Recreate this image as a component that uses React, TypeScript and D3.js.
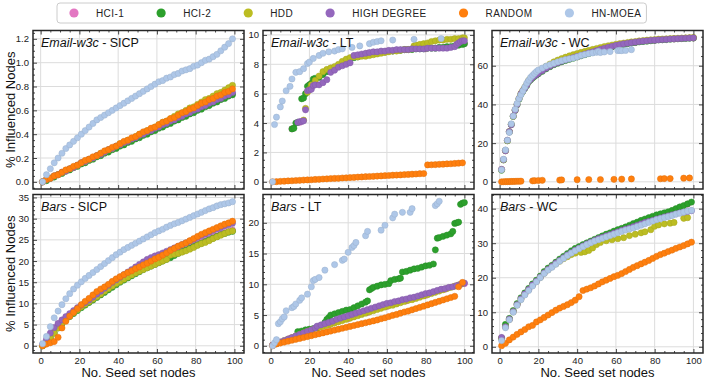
import React, { useRef, useEffect } from "react";
import * as d3 from "d3";

const METHODS = ["HCI-1", "HCI-2", "HDD", "HIGH DEGREE", "RANDOM", "HN-MOEA"];
const COLORS = ["#e377c2", "#2ca02c", "#bcbd22", "#9467bd", "#ff7f0e", "#aec7e8"];

const SEEDS = [1, 3, 5, 7, 9, 11, 13, 15, 17, 19, 21, 23, 25, 27, 29, 31, 33, 35, 37, 39, 41, 43, 45, 47, 49,
  51, 53, 55, 57, 59, 61, 63, 65, 67, 69, 71, 73, 75, 77, 79, 81, 83, 85, 87, 89, 91, 93, 95, 97, 99];
const SEEDS_WC = [1, 2, 3, 4, 5, 6, 7, 8, 9, 10, 11, 12, 13, 14, 15, 16, 17, 18, 19, 20,
  22, 24, 26, 28, 30, 32, 34, 36, 38, 40, 42, 44, 46, 48, 50, 52, 54, 56, 58, 60,
  62, 64, 66, 68, 70, 72, 74, 76, 78, 80, 82, 84, 86, 88, 90, 92, 94, 96, 98, 100];

const X_TICKS = [0, 20, 40, 60, 80, 100];

// ---- Email-w3c / SICP
const EMAIL_SICP_HCI1_X = [1, 11, 21, 31, 41, 51, 61, 71, 81, 91, 99];
const EMAIL_SICP_HCI1 = [0, .08, .16, .23, .31, .39, .46, .54, .61, .69, .74];
const EMAIL_SICP_HCI2 = [0, .01, .03, .04, .06, .07, .09, .1, .12, .13, .15, .16, .18, .19, .21, .22, .24, .25, .27, .28,
  .3, .31, .33, .34, .36, .37, .39, .4, .42, .43, .45, .46, .48, .49, .51, .52, .54, .55, .57, .58,
  .6, .61, .63, .64, .66, .67, .69, .7, .72, .73];
const EMAIL_SICP_HDD = [0, .02, .03, .05, .06, .08, .09, .11, .12, .14, .16, .17, .19, .2, .22, .24, .25, .27, .28, .3,
  .32, .33, .35, .36, .38, .4, .41, .43, .44, .46, .48, .5, .51, .53, .55, .57, .58, .6, .62, .63,
  .65, .67, .69, .7, .72, .74, .75, .77, .79, .81];
const EMAIL_SICP_HIGH = [0, .02, .03, .05, .06, .08, .09, .11, .12, .14, .16, .17, .19, .2, .22, .23, .25, .27, .28, .3,
  .31, .33, .34, .36, .37, .39, .4, .42, .43, .45, .46, .48, .49, .51, .52, .54, .55, .57, .58, .6,
  .61, .63, .64, .66, .67, .69, .7, .72, .73, .75];
const EMAIL_SICP_RANDOM = [0, .02, .03, .05, .06, .08, .1, .11, .13, .14, .16, .18, .19, .21, .22, .24, .26, .27, .29, .3,
  .32, .34, .35, .37, .38, .4, .42, .43, .45, .46, .48, .5, .51, .53, .54, .56, .58, .59, .61, .62,
  .64, .66, .67, .69, .7, .72, .73, .75, .76, .78];
const EMAIL_SICP_MOEA = [0, .06, .11, .16, .2, .24, .28, .31, .34, .37, .4, .43, .46, .49, .52, .54, .56, .58, .6, .62,
  .64, .66, .68, .7, .72, .74, .76, .78, .8, .82, .84, .85, .87, .88, .9, .91, .93, .94, .95, .97,
  .98, 1.0, 1.02, 1.03, 1.05, 1.07, 1.1, 1.13, 1.16, 1.2];

// ---- Email-w3c / LT
const EMAIL_LT_HCI1_X = [11, 15, 20, 30, 40, 50, 60, 70, 80, 90, 100];
const EMAIL_LT_HCI1 = [3.6, 4.05, 6.6, 7.6, 8.1, 8.75, 8.9, 9.0, 9.05, 9.15, 9.4];
const EMAIL_LT_HCI2_X = [11, 12, 13, 14, 16, 17, 18, 19, 20, 21, 22, 23, 25, 27, 29, 31, 33, 35, 37, 39,
  41, 43, 45, 47, 49, 51, 53, 55, 57, 59, 61, 63, 65, 67, 69, 71, 73, 75, 77, 79,
  81, 83, 85, 87, 89, 91, 93, 95, 97, 99, 100];
const EMAIL_LT_HCI2 = [3.6, 3.65, 4.0, 4.05, 5.65, 5.7, 6.0, 6.5, 6.6, 6.7, 7.0, 7.05, 7.1, 7.3, 7.5, 7.6, 7.75, 7.9, 8.0, 8.15,
  8.4, 8.45, 8.5, 8.6, 8.7, 8.75, 8.8, 8.8, 8.85, 8.85, 8.9, 8.9, 8.95, 8.95, 9.0, 9.0, 9.0, 9.05, 9.05, 9.05,
  9.1, 9.1, 9.1, 9.15, 9.15, 9.2, 9.2, 9.25, 9.3, 9.35, 9.4];
const EMAIL_LT_HDD_X = [17, 18, 19, 20, 21, 23, 25, 27, 29, 31, 33, 35, 37, 39, 41, 43, 45, 47, 49, 51,
  53, 55, 57, 59, 61, 63, 65, 67, 69, 71, 73, 74, 75, 77, 79, 81, 83, 85, 87, 89, 91, 93, 95, 97, 99, 100];
const EMAIL_LT_HDD = [4.2, 5.0, 6.1, 6.3, 6.6, 6.9, 7.2, 7.5, 7.65, 7.75, 7.85, 8.0, 8.2, 8.35, 8.45, 8.5, 8.5, 8.55, 8.55, 8.6,
  8.65, 8.7, 8.75, 8.8, 8.85, 8.9, 8.9, 8.95, 9.0, 9.0, 9.05, 9.25, 9.3, 9.35, 9.4, 9.45, 9.55, 9.6, 9.65, 9.65,
  9.7, 9.7, 9.75, 9.75, 9.8, 9.8];
const EMAIL_LT_HIGH_X = [14, 15, 16, 17, 18, 19, 20, 21, 22, 23, 25, 27, 29, 31, 33, 35, 37, 39, 41, 43,
  45, 47, 49, 51, 53, 55, 57, 59, 61, 63, 65, 67, 69, 71, 73, 75, 77, 79, 81, 83,
  85, 87, 89, 91, 93, 95, 96, 97, 98, 99, 100];
const EMAIL_LT_HIGH = [4.05, 4.1, 4.1, 4.15, 4.9, 6.2, 6.25, 6.3, 6.55, 6.6, 6.6, 6.75, 6.95, 7.45, 7.6, 7.8, 7.9, 8.0, 8.1, 8.6,
  8.65, 8.7, 8.75, 8.8, 8.85, 8.85, 8.9, 8.9, 8.95, 8.95, 9.0, 9.0, 9.0, 9.0, 9.05, 9.05, 9.05, 9.05, 9.1, 9.1,
  9.1, 9.1, 9.1, 9.1, 9.15, 9.2, 9.35, 9.45, 9.55, 9.6, 9.6];
const EMAIL_LT_RANDOM = [0, .01, .03, .04, .06, .07, .09, .1, .12, .13, .14, .16, .17, .19, .2, .22, .23, .24, .26, .27,
  .29, .3, .32, .33, .35, .36, .37, .39, .4, .42, .43, .45, .46, .47, .49, .5, .52, .53, .55, .56,
  1.15, 1.16, 1.17, 1.19, 1.2, 1.22, 1.23, 1.25, 1.27, 1.29];
const EMAIL_LT_MOEA_X = [1, 2, 3, 5, 6, 8, 10, 11, 13, 15, 17, 19, 20, 22, 25, 27, 30, 33, 35, 37,
  42, 46, 51, 53, 55, 57, 63, 74, 88];
const EMAIL_LT_MOEA = [0, 3.9, 4.4, 5.1, 5.5, 6.2, 6.5, 7.0, 7.45, 7.5, 7.7, 8.05, 8.15, 8.4, 8.6, 8.75, 8.85, 8.9, 9.0, 9.05,
  9.15, 9.25, 9.4, 9.5, 9.55, 9.6, 9.65, 9.7, 9.75];

// ---- Email-w3c / WC
const EMAIL_WC_HCI1_X = [1, 3, 5, 8, 12, 16, 20, 30, 40, 50, 60, 70, 80, 90, 100];
const EMAIL_WC_HCI1 = [6.3, 16.2, 25.8, 37.2, 47, 53, 56, 61.5, 64.6, 67.6, 70.3, 72, 73.1, 73.8, 74.3];
const EMAIL_WC_HCI2 = [6.0, 11.3, 16.2, 21.2, 25.8, 29.6, 33.8, 36.9, 39.8, 42.7, 45.2, 46.8, 48.3, 49.8, 51.7, 52.7, 53.7, 54.5, 55.2, 55.9,
  57.1, 58.4, 59.5, 60.5, 61.3, 62.0, 62.7, 63.3, 63.9, 64.5, 65.1, 65.7, 66.3, 66.9, 67.5, 68.1, 68.7, 69.2, 69.7, 70.2,
  70.6, 71.0, 71.4, 71.7, 72.0, 72.3, 72.5, 72.7, 72.9, 73.1, 73.3, 73.4, 73.5, 73.7, 73.8, 73.9, 74.0, 74.1, 74.2, 74.3];
const EMAIL_WC_HDD = [6.3, 11.4, 16.1, 21.3, 25.9, 29.7, 33.9, 37.1, 40.2, 43.2, 45.7, 47.3, 48.9, 50.4, 52.4, 53.5, 54.5, 55.4, 56.2, 57.0,
  58.3, 59.7, 60.9, 62.0, 62.9, 63.7, 64.4, 65.1, 65.7, 66.3, 66.9, 67.4, 67.9, 68.4, 68.9, 69.4, 69.9, 70.3, 70.7, 71.1,
  71.4, 71.7, 72.0, 72.3, 72.5, 72.8, 73.0, 73.2, 73.4, 73.5, 73.7, 73.8, 73.9, 74.0, 74.1, 74.2, 74.3, 74.4, 74.5, 74.6];
const EMAIL_WC_HIGH = [6.5, 11.5, 16.0, 21.5, 26.0, 29.5, 34.0, 37.0, 40.0, 43.0, 45.5, 47.0, 48.5, 50.0, 52.0, 53.0, 54.0, 54.8, 55.5, 56.2,
  57.4, 58.7, 59.8, 60.8, 61.6, 62.3, 63.0, 63.6, 64.2, 64.8, 65.4, 66.0, 66.6, 67.2, 67.8, 68.4, 69.0, 69.5, 70.0, 70.5,
  70.9, 71.3, 71.6, 71.9, 72.2, 72.5, 72.7, 72.9, 73.1, 73.2, 73.4, 73.5, 73.6, 73.8, 73.9, 74.0, 74.1, 74.2, 74.3, 74.4];
const EMAIL_WC_RANDOM_X = [1, 2, 3, 4, 5, 6, 7, 8, 9, 10, 11, 17, 18, 20, 22, 31, 32, 40, 46, 52, 59, 63, 68, 83, 85, 88, 95, 98];
const EMAIL_WC_RANDOM = [0, .05, .1, .1, .15, .2, .2, .25, .3, .3, .35, .5, .6, .7, .8, .9, 1.0, 1.1, 1.2, 1.2, 1.3, 1.4, 1.5, 1.6, 1.7, 1.7, 1.9, 2.0];
const EMAIL_WC_MOEA_X = [1, 2, 3, 4, 5, 6, 7, 8, 9, 10, 11, 12, 13, 14, 15, 16, 17, 18, 19, 20,
  22, 24, 26, 28, 30, 32, 34, 36, 38, 40, 42, 44, 46, 48, 50, 51, 52, 54, 57, 61, 62, 63, 65, 68];
const EMAIL_WC_MOEA = [6.2, 11.7, 16.5, 21.5, 25.5, 30.0, 34.0, 37.5, 40.5, 43.0, 45.0, 47.0, 49.0, 51.0, 52.5, 54.0, 55.0, 56.0, 57.0, 57.8,
  58.8, 59.8, 60.6, 61.3, 62.0, 62.6, 63.2, 63.6, 64.0, 64.6, 65.3, 65.8, 66.3, 66.6, 66.9, 67.4, 66.8, 67.1, 67.3, 67.8,
  67.9, 67.8, 67.9, 68.3];

// ---- Bars / SICP
const BARS_SICP_HCI1 = [0.2, 1.2, 2.5, 3.8, 4.8, 5.7, 6.5, 7.3, 8.0, 8.7, 9.3, 9.9, 10.5, 11.2, 11.8, 12.4, 13.0, 13.7, 14.3, 14.9,
  15.5, 16.0, 16.6, 17.1, 17.6, 18.1, 18.6, 19.0, 19.4, 19.8, 20.2, 20.6, 21.0, 21.4, 21.8, 22.1, 22.5, 22.9, 23.3, 23.7,
  24.1, 24.5, 24.9, 25.3, 25.7, 26.0, 26.4, 26.7, 27.0, 27.3];
const BARS_SICP_HCI2 = [0, 0.8, 1.8, 3.0, 4.2, 5.2, 6.1, 6.9, 7.6, 8.3, 9.0, 9.6, 10.2, 10.8, 11.4, 12.0, 12.6, 13.2, 13.8, 14.4,
  15.0, 15.5, 16.0, 16.5, 17.0, 17.5, 18.0, 18.4, 18.8, 19.2, 19.6, 20.0, 20.4, 20.8, 21.3, 21.8, 22.2, 22.6, 23.0, 23.4,
  23.8, 24.2, 24.6, 25.0, 25.4, 25.8, 26.2, 26.5, 26.8, 27.0];
const BARS_SICP_HDD = [0, 0.8, 1.8, 3.0, 4.2, 5.3, 6.2, 7.0, 7.8, 8.5, 9.2, 9.8, 10.4, 11.0, 11.6, 12.2, 12.9, 13.5, 14.1, 14.7,
  15.2, 15.7, 16.2, 16.7, 17.2, 17.6, 18.0, 18.4, 18.8, 19.2, 19.6, 20.0, 20.4, 21.4, 21.6, 21.8, 22.1, 22.4, 22.8, 23.2,
  23.7, 24.1, 24.4, 24.8, 25.3, 25.7, 26.1, 26.5, 26.9, 27.1];
const BARS_SICP_HIGH = [0.3, 1.5, 3.0, 4.3, 5.3, 6.1, 6.9, 7.6, 8.3, 9.0, 9.6, 10.2, 10.8, 11.5, 12.2, 12.9, 13.6, 14.3, 15.0, 15.6,
  16.2, 16.8, 17.4, 18.0, 18.6, 19.2, 19.8, 20.4, 20.8, 21.2, 21.5, 21.9, 22.3, 22.7, 23.1, 23.5, 23.9, 24.3, 24.7, 25.1,
  25.6, 26.0, 26.4, 26.8, 27.2, 27.6, 27.9, 28.3, 28.6, 28.9];
const BARS_SICP_RANDOM = [0, 0.4, 0.7, 1.0, 2.0, 4.2, 5.8, 7.0, 7.9, 8.8, 9.7, 10.5, 11.2, 12.0, 12.8, 13.4, 13.9, 14.5, 15.2, 15.8,
  16.3, 16.8, 17.3, 17.7, 18.2, 18.6, 19.1, 19.5, 20.0, 20.5, 20.9, 21.4, 21.9, 22.5, 23.0, 23.5, 23.9, 24.3, 24.8, 25.3,
  25.8, 26.3, 26.7, 27.1, 27.5, 27.9, 28.3, 28.7, 29.0, 29.4];
const BARS_SICP_MOEA = [0.5, 2.2, 4.5, 6.6, 8.2, 9.7, 11.1, 12.3, 13.4, 14.3, 15.1, 15.9, 16.6, 17.3, 18.0, 18.7, 19.4, 20.1, 20.8, 21.5,
  22.1, 22.7, 23.2, 23.7, 24.2, 24.7, 25.2, 25.7, 26.2, 26.7, 27.1, 27.5, 28.0, 28.4, 28.8, 29.1, 29.5, 29.9, 30.3, 30.7,
  31.1, 31.5, 31.9, 32.3, 32.6, 33.0, 33.3, 33.5, 33.7, 34.0];

// ---- Bars / LT
const BARS_LT_HCI1_X = [1, 5, 10, 20, 30, 40, 50, 60, 70, 80, 90, 100];
const BARS_LT_HCI1 = [0.1, 0.6, 1.2, 2.35, 3.4, 4.4, 5.4, 6.4, 7.3, 8.2, 9.2, 10.1];
const BARS_LT_HCI2_X = [14, 16, 18, 20, 22, 24, 26, 28, 29, 30, 31, 33, 35, 37, 39, 41, 43, 45, 47, 49,
  50, 51, 52, 53, 55, 57, 59, 61, 62, 64, 66, 67, 68, 70, 72, 74, 76, 78, 80, 82,
  84, 85, 86, 87, 89, 91, 93, 94, 95, 96, 97, 98, 99, 100];
const BARS_LT_HCI2 = [2.3, 2.4, 2.6, 2.7, 2.8, 2.9, 3.2, 3.8, 4.3, 4.6, 5.0, 5.2, 5.4, 5.6, 5.8, 5.9, 6.2, 6.5, 6.8, 7.1,
  7.3, 9.1, 9.3, 9.5, 9.7, 9.9, 10.0, 10.1, 10.6, 10.8, 10.9, 11.0, 12.0, 12.1, 12.3, 12.5, 12.6, 12.8, 13.0, 13.1,
  13.3, 15.6, 17.5, 17.6, 17.8, 18.0, 18.2, 18.6, 19.9, 20.0, 20.1, 23.0, 23.2, 23.3];
const BARS_LT_HDD = [0.1, 0.35, 0.6, 0.85, 1.1, 1.35, 1.6, 1.85, 2.1, 2.35, 2.6, 2.85, 3.0, 3.15, 3.3, 3.5, 3.7, 3.9, 4.1, 4.3,
  4.5, 4.7, 4.9, 5.1, 5.3, 5.5, 5.7, 5.9, 6.1, 6.3, 6.5, 6.6, 6.8, 7.0, 7.2, 7.4, 7.5, 7.7, 7.9, 8.1,
  8.3, 8.5, 8.7, 8.9, 9.1, 9.3, 9.5, 9.7, 9.9, 10.1];
const BARS_LT_HIGH_X = [1, 3, 5, 7, 9, 11, 13, 15, 17, 19, 21, 23, 24, 26, 28, 30, 32, 34, 36, 38,
  40, 42, 44, 46, 48, 50, 52, 54, 56, 58, 60, 62, 64, 66, 68, 70, 72, 74, 76, 78,
  80, 82, 84, 86, 88, 90, 92, 94, 96, 98, 100];
const BARS_LT_HIGH = [0.1, 0.35, 0.6, 0.85, 1.1, 1.35, 1.6, 1.85, 2.1, 2.35, 2.6, 2.9, 3.2, 3.4, 3.6, 3.8, 4.0, 4.3, 4.5, 4.7,
  4.9, 5.1, 5.3, 5.5, 5.7, 5.9, 6.1, 6.3, 6.5, 6.7, 6.9, 7.0, 7.2, 7.3, 7.5, 7.6, 7.8, 7.9, 8.1, 8.3,
  8.5, 8.6, 8.8, 9.0, 9.2, 9.3, 9.5, 9.6, 9.8, 10.0, 10.2];
const BARS_LT_RANDOM = [0, 0.3, 0.45, 0.6, 0.75, 0.9, 1.05, 1.2, 1.35, 1.5, 1.65, 1.8, 1.95, 2.1, 2.25, 2.4, 2.55, 2.7, 2.85, 3.0,
  3.15, 3.3, 3.45, 3.6, 3.75, 3.9, 4.05, 4.2, 4.4, 4.55, 4.75, 4.95, 5.1, 5.3, 5.5, 5.65, 5.85, 6.05, 6.25, 6.45,
  6.65, 6.85, 7.05, 7.25, 7.45, 7.65, 7.85, 8.05, 9.6, 10.3];
const BARS_LT_MOEA_X = [1, 2, 3, 4, 5, 6, 7, 8, 11, 12, 13, 15, 16, 19, 21, 22, 23, 25, 28, 33,
  37, 38, 40, 42, 43, 44, 49, 50, 57, 59, 63, 64, 68, 72, 73, 85, 86, 87];
const BARS_LT_MOEA = [0, 0.5, 1.0, 3.6, 3.9, 4.4, 4.7, 5.7, 6.2, 6.4, 6.8, 7.4, 7.8, 8.4, 9.6, 10.6, 10.8, 11.1, 12.3, 13.2,
  13.9, 14.1, 15.2, 16.0, 16.3, 16.8, 17.9, 18.6, 18.8, 19.6, 20.8, 21.4, 21.7, 21.7, 22.3, 22.8, 23.1, 23.5];

// ---- Bars / WC
const BARS_WC_HCI1_X = [1, 5, 9, 13, 17, 21, 25, 29, 33, 37, 41, 45, 49, 53, 57, 61, 65, 69, 73, 77, 81, 85, 89, 93, 97];
const BARS_WC_HCI1 = [2.3, 8.0, 12.3, 15.4, 18.0, 20.3, 22.5, 24.2, 25.8, 27.4, 28.8, 29.8, 30.8, 31.7, 32.6, 33.5, 34.3, 35.5, 36.4, 37.0,
  37.8, 38.5, 39.3, 40.3, 41.3];
const BARS_WC_HCI2 = [2.5, 6.5, 8.2, 10.5, 12.5, 14.2, 15.6, 16.9, 18.2, 19.3, 20.5, 21.8, 22.8, 23.6, 24.5, 25.4, 26.2, 27.0, 27.8, 28.5,
  29.0, 29.6, 30.1, 30.6, 31.1, 31.6, 32.1, 32.6, 33.0, 33.5, 33.9, 34.3, 34.7, 35.2, 35.7, 36.1, 36.6, 37.0, 37.4, 37.8,
  38.2, 38.5, 38.8, 39.1, 39.5, 40.0, 40.5, 40.9, 41.4, 41.9];
const BARS_WC_HDD_X = [1, 3, 5, 7, 9, 11, 13, 15, 17, 19, 21, 23, 25, 27, 29, 31, 33, 35, 37, 39,
  42, 44, 46, 48, 50, 52, 55, 58, 61, 64, 67, 70, 73, 75, 78, 80, 82, 85, 88, 90, 95, 97];
const BARS_WC_HDD = [2.5, 5.7, 7.9, 10.1, 12.1, 13.8, 15.2, 16.5, 17.8, 18.9, 20.1, 21.3, 22.3, 23.2, 24.0, 24.8, 25.5, 26.1, 26.7, 27.1,
  27.3, 27.5, 27.9, 28.6, 29.6, 30.2, 30.7, 31.0, 31.3, 31.6, 32.2, 32.6, 33.0, 33.3, 33.9, 34.9, 35.3, 35.6, 35.8, 36.0,
  37.2, 37.4];
const BARS_WC_HIGH = [2.7, 5.8, 8.0, 10.2, 12.2, 13.9, 15.3, 16.6, 17.9, 19.0, 20.2, 21.4, 22.4, 23.3, 24.2, 25.0, 25.8, 26.6, 27.3, 28.0,
  28.6, 29.2, 29.8, 30.3, 30.8, 31.3, 31.7, 32.1, 32.5, 32.9, 33.3, 33.7, 34.1, 34.4, 34.8, 35.2, 35.6, 36.0, 36.3, 36.6,
  37.0, 37.3, 37.6, 37.9, 38.2, 38.5, 38.8, 39.0, 39.2, 39.4];
const BARS_WC_RANDOM = [0.3, 1.0, 2.0, 2.8, 3.6, 4.3, 5.0, 5.8, 6.2, 7.2, 7.8, 8.5, 9.2, 9.9, 10.6, 11.2, 11.7, 12.2, 12.8, 13.5,
  14.5, 16.3, 16.7, 17.1, 17.6, 18.2, 18.8, 19.3, 19.8, 20.3, 20.7, 21.2, 21.8, 22.4, 23.0, 23.5, 24.0, 24.5, 25.0, 25.6,
  26.2, 26.7, 27.1, 27.6, 28.0, 28.5, 28.9, 29.3, 29.8, 30.3];
const BARS_WC_MOEA = [1.8, 5.5, 7.8, 10.0, 12.0, 13.6, 15.0, 16.3, 17.6, 18.8, 20.0, 21.2, 22.2, 23.0, 23.9, 24.8, 25.6, 26.4, 27.1, 27.8,
  28.4, 29.0, 29.6, 30.1, 30.6, 31.0, 31.4, 31.8, 32.2, 32.6, 33.0, 33.4, 33.8, 34.1, 34.4, 34.8, 35.2, 35.6, 36.0, 36.4,
  36.8, 37.1, 37.4, 37.7, 38.0, 38.4, 38.7, 39.0, 39.3, 39.5];

type Series = { x: number[]; y: number[] };
type Panel = { net: string; model: string; yDomain: [number, number]; yTicks: number[]; yMinor: number; fmt: string; series: Series[] };

const s = (x: number[], y: number[]): Series => ({ x, y });

const PANELS: Panel[] = [
  { net: "Email-w3c", model: "SICP", yDomain: [-0.06, 1.27], yTicks: [0, 0.2, 0.4, 0.6, 0.8, 1.0, 1.2], yMinor: 0.05, fmt: ".1f",
    series: [s(EMAIL_SICP_HCI1_X, EMAIL_SICP_HCI1), s(SEEDS, EMAIL_SICP_HCI2), s(SEEDS, EMAIL_SICP_HDD),
      s(SEEDS, EMAIL_SICP_HIGH), s(SEEDS, EMAIL_SICP_RANDOM), s(SEEDS, EMAIL_SICP_MOEA)] },
  { net: "Email-w3c", model: "LT", yDomain: [-0.49, 10.3], yTicks: [0, 2, 4, 6, 8, 10], yMinor: 0.5, fmt: "d",
    series: [s(EMAIL_LT_HCI1_X, EMAIL_LT_HCI1), s(EMAIL_LT_HCI2_X, EMAIL_LT_HCI2), s(EMAIL_LT_HDD_X, EMAIL_LT_HDD),
      s(EMAIL_LT_HIGH_X, EMAIL_LT_HIGH), s(SEEDS, EMAIL_LT_RANDOM), s(EMAIL_LT_MOEA_X, EMAIL_LT_MOEA)] },
  { net: "Email-w3c", model: "WC", yDomain: [-3.7, 78.2], yTicks: [0, 20, 40, 60], yMinor: 5, fmt: "d",
    series: [s(EMAIL_WC_HCI1_X, EMAIL_WC_HCI1), s(SEEDS_WC, EMAIL_WC_HCI2), s(SEEDS_WC, EMAIL_WC_HDD),
      s(SEEDS_WC, EMAIL_WC_HIGH), s(EMAIL_WC_RANDOM_X, EMAIL_WC_RANDOM), s(EMAIL_WC_MOEA_X, EMAIL_WC_MOEA)] },
  { net: "Bars", model: "SICP", yDomain: [-1.7, 35.7], yTicks: [0, 5, 10, 15, 20, 25, 30, 35], yMinor: 1, fmt: "d",
    series: [s(SEEDS, BARS_SICP_HCI1), s(SEEDS, BARS_SICP_HCI2), s(SEEDS, BARS_SICP_HDD),
      s(SEEDS, BARS_SICP_HIGH), s(SEEDS, BARS_SICP_RANDOM), s(SEEDS, BARS_SICP_MOEA)] },
  { net: "Bars", model: "LT", yDomain: [-1.17, 24.6], yTicks: [0, 5, 10, 15, 20], yMinor: 1, fmt: "d",
    series: [s(BARS_LT_HCI1_X, BARS_LT_HCI1), s(BARS_LT_HCI2_X, BARS_LT_HCI2), s(SEEDS, BARS_LT_HDD),
      s(BARS_LT_HIGH_X, BARS_LT_HIGH), s(SEEDS, BARS_LT_RANDOM), s(BARS_LT_MOEA_X, BARS_LT_MOEA)] },
  { net: "Bars", model: "WC", yDomain: [-1.8, 44.1], yTicks: [0, 10, 20, 30, 40], yMinor: 2, fmt: "d",
    series: [s(BARS_WC_HCI1_X, BARS_WC_HCI1), s(SEEDS, BARS_WC_HCI2), s(BARS_WC_HDD_X, BARS_WC_HDD),
      s(SEEDS, BARS_WC_HIGH), s(SEEDS, BARS_WC_RANDOM), s(SEEDS, BARS_WC_MOEA)] },
];

const FONT = "'Liberation Sans', Arial, Helvetica, sans-serif";

function App() {
  const svgRef = useRef<SVGSVGElement>(null);

  useEffect(() => {
    const width = 706;
    const height = 382;
    const colX = [33, 263, 492];
    const rowY = [30.5, 194.5];
    const pw = 211;
    const ph = 158.5;
    const xDomain: [number, number] = [-3.95, 104.95];

    const svg = d3.select(svgRef.current);
    svg.selectAll("*").remove();
    svg.attr("width", width).attr("height", height);
    svg.append("rect").attr("width", width).attr("height", height).attr("fill", "#fff");

    PANELS.forEach((p, i) => {
      const col = i % 3;
      const row = Math.floor(i / 3);
      const left = colX[col];
      const top = rowY[row];
      const x = d3.scaleLinear().domain(xDomain).range([left, left + pw]);
      const y = d3.scaleLinear().domain(p.yDomain).range([top + ph, top]);
      const g = svg.append("g");

      const clipId = `clip-${i}`;
      g.append("clipPath").attr("id", clipId)
        .append("rect").attr("x", left).attr("y", top).attr("width", pw).attr("height", ph);

      // grid
      g.append("g").selectAll("line").data(X_TICKS).join("line")
        .attr("x1", (d) => x(d)).attr("x2", (d) => x(d))
        .attr("y1", top).attr("y2", top + ph)
        .attr("stroke", "#dcdcdc").attr("stroke-width", 1);
      g.append("g").selectAll("line").data(p.yTicks).join("line")
        .attr("x1", left).attr("x2", left + pw)
        .attr("y1", (d) => y(d)).attr("y2", (d) => y(d))
        .attr("stroke", "#dcdcdc").attr("stroke-width", 1);

      // points
      const pts = g.append("g").attr("clip-path", `url(#${clipId})`);
      p.series.forEach((se, k) => {
        const c = d3.color(COLORS[k])!;
        pts.append("g").selectAll("circle")
          .data(se.x.map((xv, j) => [xv, se.y[j]]))
          .join("circle")
          .attr("cx", (d) => x(d[0]))
          .attr("cy", (d) => y(d[1]))
          .attr("r", 3.1)
          .attr("fill", COLORS[k])
          .attr("stroke", c.darker(0.35).toString())
          .attr("stroke-width", 0.5);
      });

      // ticks (inside, all four sides); x labels only on the bottom row
      const xMinor = d3.range(0, 105, 5).filter((v) => v % 20 !== 0);
      const [y0, y1] = p.yDomain;
      const yMinor = d3.range(Math.ceil(y0 / p.yMinor) * p.yMinor, y1, p.yMinor)
        .filter((v) => !p.yTicks.some((t) => Math.abs(t - v) < 1e-6));
      const fmt = d3.format(p.fmt);

      const styleAxis = (sel: d3.Selection<SVGGElement, unknown, null, undefined>) => {
        sel.select(".domain").remove();
        sel.selectAll("line").attr("stroke", "#333").attr("stroke-width", 0.9);
        sel.selectAll("text").attr("fill", "#222").style("font-family", FONT).style("font-size", "9.5px");
      };

      const xLabels = row === 1 ? d3.format("d") : () => "";
      g.append("g").attr("transform", `translate(0,${top + ph})`)
        .call(d3.axisBottom(x).tickValues(X_TICKS).tickSizeInner(-4).tickSizeOuter(0).tickPadding(4)
          .tickFormat((d) => xLabels(d as number)))
        .call(styleAxis);
      g.append("g").attr("transform", `translate(0,${top + ph})`)
        .call(d3.axisBottom(x).tickValues(xMinor).tickSizeInner(-2).tickSizeOuter(0).tickFormat(() => ""))
        .call(styleAxis);
      g.append("g").attr("transform", `translate(0,${top})`)
        .call(d3.axisTop(x).tickValues(X_TICKS).tickSizeInner(-4).tickSizeOuter(0).tickFormat(() => ""))
        .call(styleAxis);
      g.append("g").attr("transform", `translate(0,${top})`)
        .call(d3.axisTop(x).tickValues(xMinor).tickSizeInner(-2).tickSizeOuter(0).tickFormat(() => ""))
        .call(styleAxis);
      g.append("g").attr("transform", `translate(${left},0)`)
        .call(d3.axisLeft(y).tickValues(p.yTicks).tickSizeInner(-4).tickSizeOuter(0).tickPadding(4).tickFormat((d) => fmt(d as number)))
        .call(styleAxis);
      g.append("g").attr("transform", `translate(${left},0)`)
        .call(d3.axisLeft(y).tickValues(yMinor).tickSizeInner(-2).tickSizeOuter(0).tickFormat(() => ""))
        .call(styleAxis);
      g.append("g").attr("transform", `translate(${left + pw},0)`)
        .call(d3.axisRight(y).tickValues(p.yTicks).tickSizeInner(-4).tickSizeOuter(0).tickFormat(() => ""))
        .call(styleAxis);
      g.append("g").attr("transform", `translate(${left + pw},0)`)
        .call(d3.axisRight(y).tickValues(yMinor).tickSizeInner(-2).tickSizeOuter(0).tickFormat(() => ""))
        .call(styleAxis);

      // frame
      g.append("rect").attr("x", left).attr("y", top).attr("width", pw).attr("height", ph)
        .attr("fill", "none").attr("stroke", "#262626").attr("stroke-width", 1.5);

      // panel title
      const title = g.append("text").attr("x", left + 8).attr("y", top + 16)
        .style("font-family", FONT).style("font-size", "12.5px").attr("fill", "#111");
      title.append("tspan").style("font-style", "italic").text(p.net);
      title.append("tspan").text(` - ${p.model}`);

      if (row === 1) {
        svg.append("text").attr("x", left + pw / 2).attr("y", 377)
          .attr("text-anchor", "middle").style("font-family", FONT).style("font-size", "13px")
          .attr("fill", "#111").text("No. Seed set nodes");
      }
      if (col === 0) {
        svg.append("text").attr("transform", `translate(15,${top + ph / 2}) rotate(-90)`)
          .attr("text-anchor", "middle").style("font-family", FONT).style("font-size", "13px")
          .attr("fill", "#111").text("% Influenced Nodes");
      }
    });

    // legend
    const leg = svg.append("g");
    const box = leg.append("rect");
    let cx = 74;
    let end = 0;
    METHODS.forEach((m, k) => {
      leg.append("circle").attr("cx", cx).attr("cy", 13).attr("r", 4.6).attr("fill", COLORS[k]);
      const t = leg.append("text").attr("x", cx + 22).attr("y", 16.5)
        .style("font-family", FONT).style("font-size", "10px").style("letter-spacing", "0.4px")
        .attr("fill", "#222").text(m);
      const w = (t.node() as SVGTextElement).getComputedTextLength();
      end = cx + 22 + w;
      cx = end + 37;
    });
    box.attr("x", 57).attr("y", 3).attr("width", end + 5 - 57).attr("height", 20).attr("rx", 3)
      .attr("fill", "#fff").attr("stroke", "#cccccc").attr("stroke-width", 1);
  }, []);

  return <svg ref={svgRef} style={{ position: "absolute", left: 0, top: 0 }}></svg>;
}

export default App;
